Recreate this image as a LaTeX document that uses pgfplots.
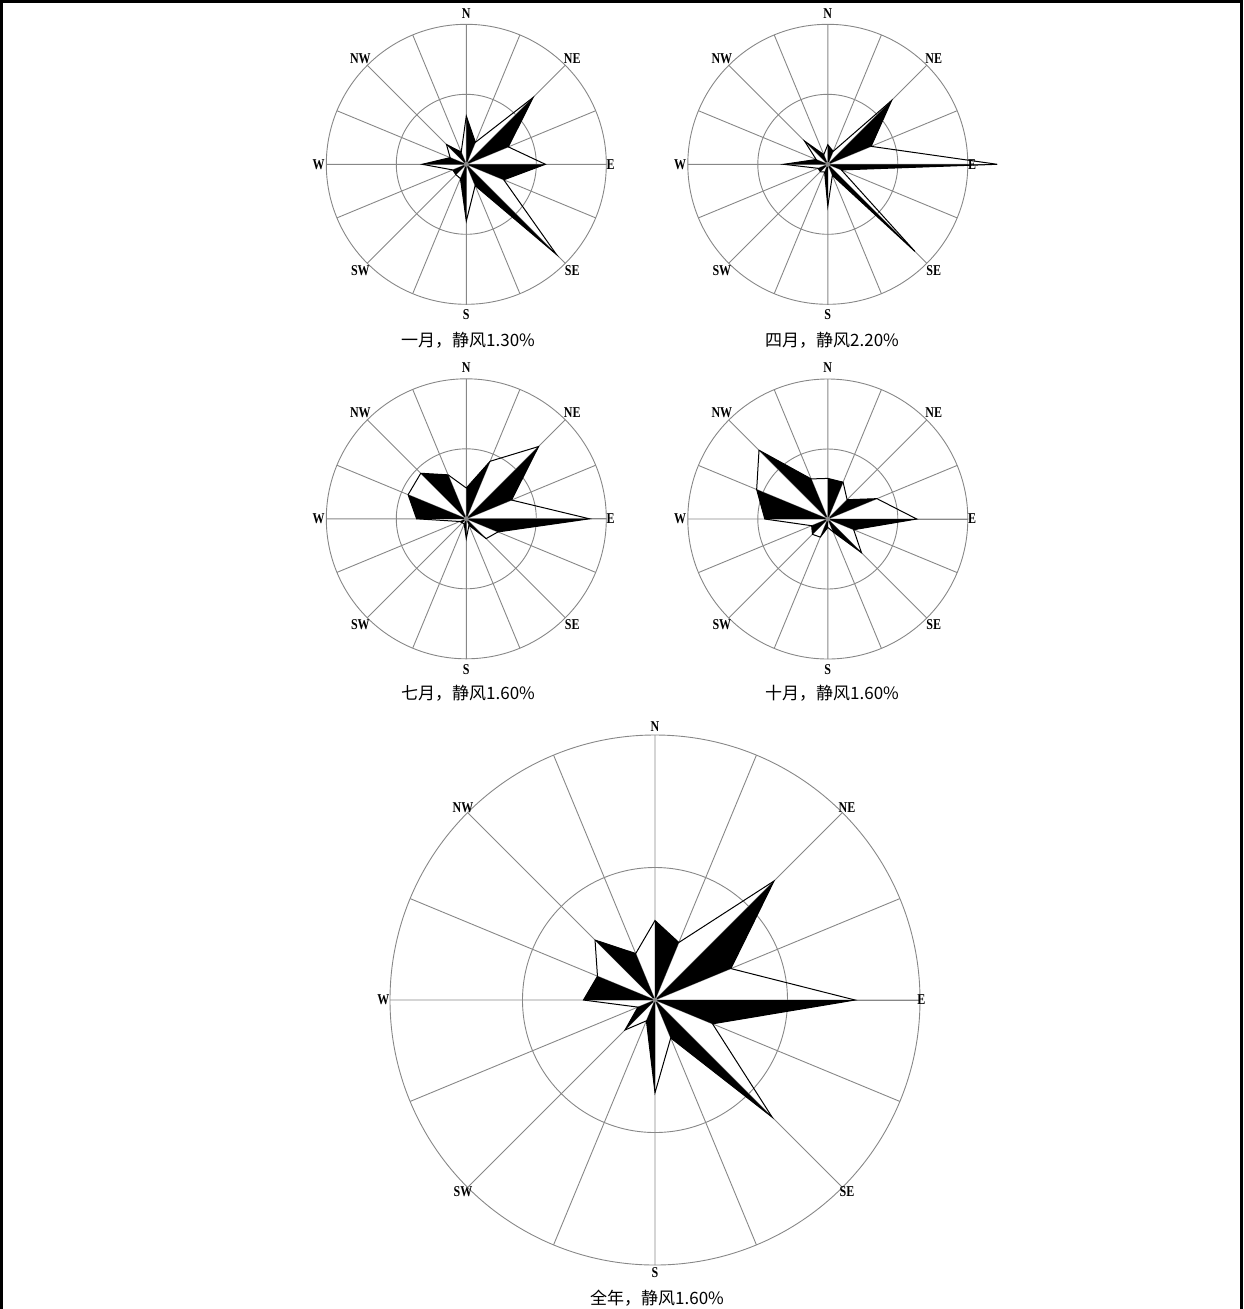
\documentclass[border=0pt]{standalone}
\usepackage{pgfplots}
\pgfplotsset{compat=1.18}
\usepackage{pgfplotstable}
\usepgfplotslibrary{polar}
\usepackage{fontspec}
\setmainfont{Liberation Serif}
\newfontfamily\labfont{Liberation Serif}[FakeStretch=0.8, BoldFont={Liberation Serif Bold}]
\newfontfamily\cjk{Noto Sans CJK SC}

\definecolor{gridgray}{RGB}{135,135,135}

% wind direction frequency (%), compass degrees clockwise from north
\pgfplotstableread{
dir r
0 6.9
22.5 3.4
45 13.5
67.5 6.5
90 11.3
112.5 5.8
135 18.2
157.5 3.3
180 8.1
202.5 2.2
225 2.1
247.5 2.1
270 6.3
292.5 2.5
315 4.0
337.5 1.9
}\jan

\pgfplotstableread{
dir r
0 2.8
22.5 2.0
45 12.9
67.5 6.7
90 24.2
112.5 2.1
135 17.6
157.5 1.7
180 6.0
202.5 1.2
225 1.5
247.5 1.5
270 6.3
292.5 1.8
315 4.7
337.5 1.5
}\apr

\pgfplotstableread{
dir r
0 4.4
22.5 8.9
45 14.6
67.5 7.0
90 17.6
112.5 4.9
135 4.0
157.5 1.0
180 2.8
202.5 0.8
225 0.8
247.5 1.0
270 7.1
292.5 9.0
315 9.2
337.5 6.8
}\jul

\pgfplotstableread{
dir r
0 5.8
22.5 5.7
45 3.9
67.5 7.6
90 12.7
112.5 4.0
135 6.8
157.5 2.0
180 1.2
202.5 2.8
225 3.1
247.5 2.5
270 9.0
292.5 11.0
315 13.9
337.5 6.2
}\oct

\pgfplotstableread{
dir r
0 6.0
22.5 4.7
45 12.7
67.5 6.2
90 15.1
112.5 4.7
135 12.5
157.5 3.1
180 7.0
202.5 1.7
225 3.2
247.5 1.4
270 5.4
292.5 4.7
315 6.4
337.5 3.8
}\year

\pgfplotsset{
  rose/.style={
    scale only axis, width=#1, height=#1, anchor=center,
    xmin=0, xmax=360, ymin=0, ymax=20,
    xtick={0,22.5,...,337.5}, ytick={10},
    xticklabel={\mbox{}}, yticklabel={\mbox{}},
    major tick length=0pt,
    grid=major,
    major grid style={color=gridgray, line width=0.9pt},
    axis line style={color=gridgray, line width=0.9pt},
    clip=false, no markers,
  },
}
\tikzset{
  dirlabel/.style={font=\labfont\bfseries\fontsize{15pt}{15pt}\selectfont, inner sep=0pt},
  rosecaption/.style={font=\cjk\fontsize{17pt}{17pt}\selectfont, inner sep=0pt},
}

% black half of every principal spike (sector from one direction to the next
% clockwise), then the frequency polygon
\newcommand{\rose}[1]{%
  \pgfplotsinvokeforeach{0,2,4,6,8,10,12,14}{%
    \addplot[draw=none, fill=black,
      x filter/.code={%
        \ifnum\coordindex<##1 \def\pgfmathresult{}\fi
        \ifnum\coordindex>\numexpr##1+1\relax \def\pgfmathresult{}\fi}]
      table[x expr={mod(450-\thisrow{dir},360)}, y=r] {#1} -- (axis cs:0,0) -- cycle;
  }%
  \addplot[black, line width=1pt, line join=miter]
    table[x expr={mod(450-\thisrow{dir},360)}, y=r] {#1} -- cycle;
  \fill[gridgray] (axis cs:0,0) circle[radius=2.5pt];
}

% compass labels: radii for N, E, S, W and the diagonals
\newcommand{\compass}[5]{%
  \node[dirlabel] at (axis cs:90,#1) {N};
  \node[dirlabel] at (axis cs:0,#2) {E};
  \node[dirlabel] at (axis cs:270,#3) {S};
  \node[dirlabel] at (axis cs:180,#4) {W};
  \node[dirlabel] at (axis cs:45,#5) {NE};
  \node[dirlabel] at (axis cs:135,#5) {NW};
  \node[dirlabel] at (axis cs:225,#5) {SW};
  \node[dirlabel] at (axis cs:315,#5) {SE};
}

\begin{document}
\begin{tikzpicture}
\useasboundingbox (0pt,0pt) rectangle (1244pt,-1309pt);
\draw[line width=3.3pt] (1.7pt,-1320pt) -- (1.7pt,-1.7pt) -- (1241.8pt,-1.7pt) -- (1241.8pt,-1320pt);

\begin{polaraxis}[rose=280pt, at={(466.3pt,-164.3pt)}]
  \rose{\jan}
  \compass{21.6}{20.6}{21.5}{21.1}{21.4}
\end{polaraxis}
\node[rosecaption] at (468pt,-340pt) {一月，静风1.30\%};

\begin{polaraxis}[rose=280pt, at={(827.8pt,-164.3pt)}]
  \rose{\apr}
  \compass{21.6}{20.6}{21.5}{21.1}{21.4}
\end{polaraxis}
\node[rosecaption] at (832pt,-340pt) {四月，静风2.20\%};

\begin{polaraxis}[rose=280pt, at={(466.3pt,-518.8pt)}]
  \rose{\jul}
  \compass{21.6}{20.6}{21.5}{21.1}{21.4}
\end{polaraxis}
\node[rosecaption] at (468pt,-693pt) {七月，静风1.60\%};

\begin{polaraxis}[rose=280pt, at={(827.8pt,-519pt)}]
  \rose{\oct}
  \compass{21.6}{20.6}{21.5}{21.1}{21.4}
\end{polaraxis}
\node[rosecaption] at (832pt,-693pt) {十月，静风1.60\%};

\begin{polaraxis}[rose=530pt, at={(655pt,-1000pt)}]
  \rose{\year}
  \compass{20.6}{20.1}{20.6}{20.5}{20.5}
\end{polaraxis}
\node[rosecaption] at (657pt,-1298pt) {全年，静风1.60\%};
\end{tikzpicture}
\end{document}
